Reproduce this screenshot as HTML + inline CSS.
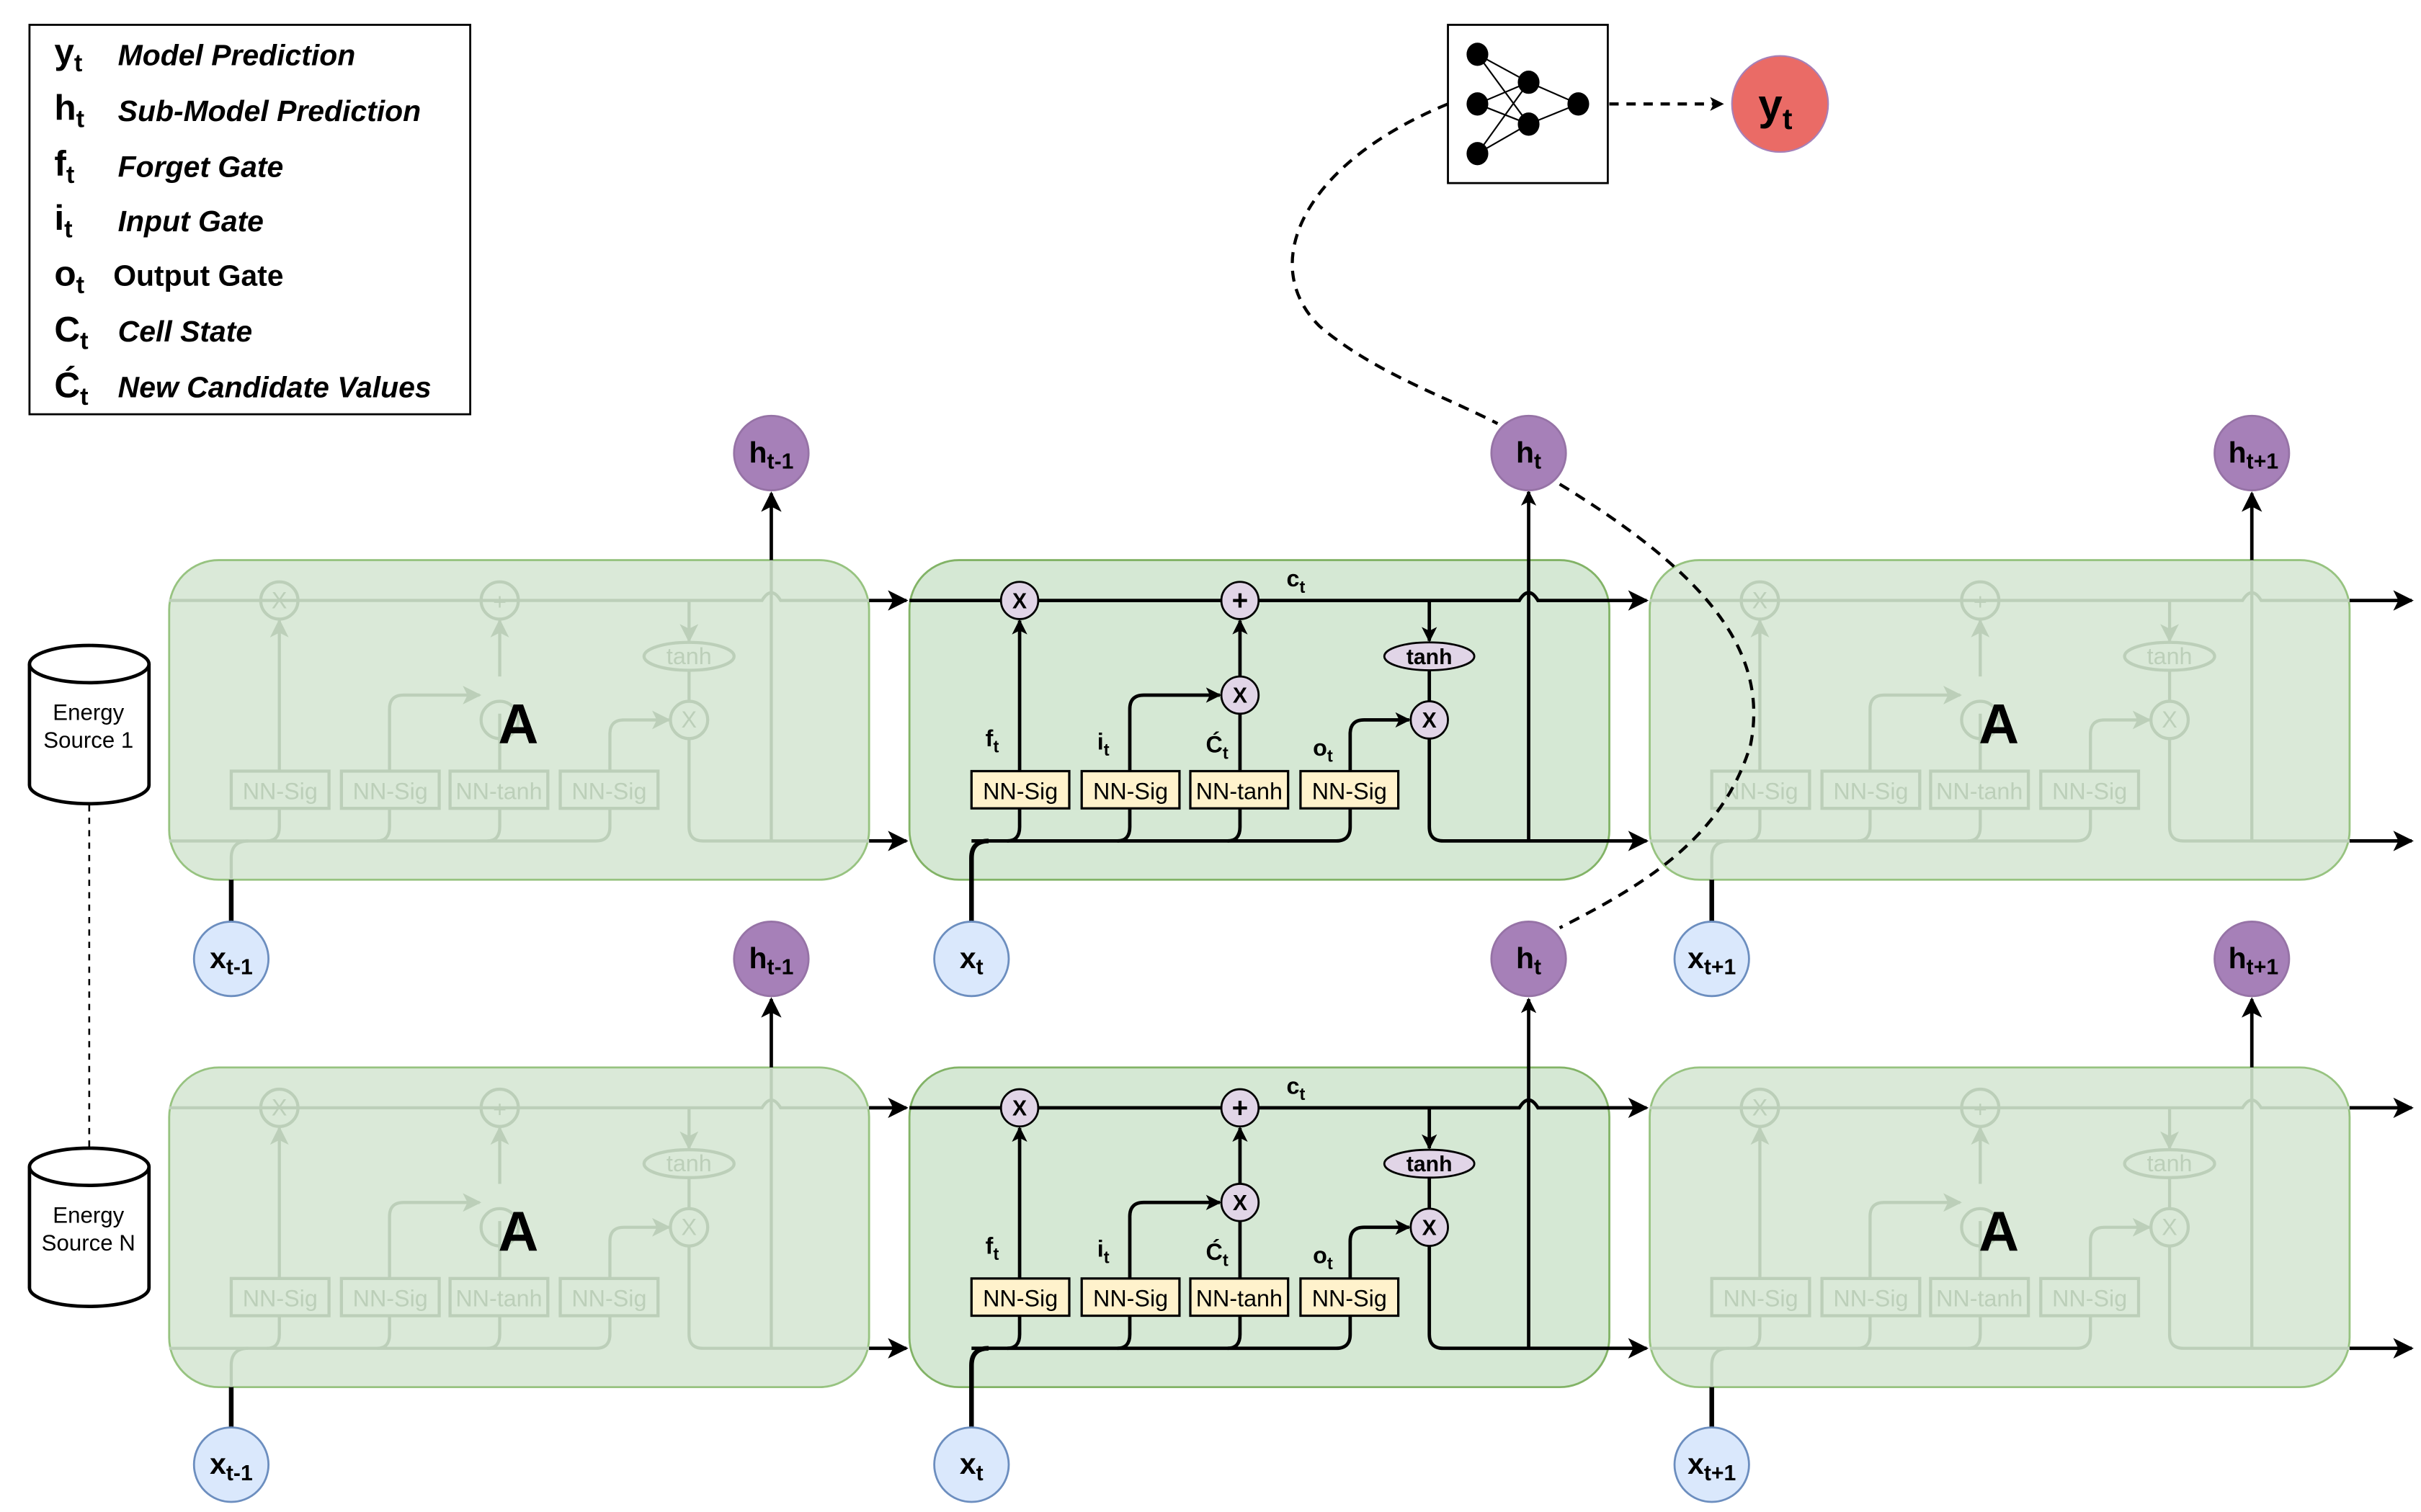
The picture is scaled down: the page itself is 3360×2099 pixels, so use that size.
<!DOCTYPE html>
<html><head><meta charset="utf-8"><style>
html,body{margin:0;padding:0;background:#fff;}
svg{display:block;}
text{font-family:"Liberation Sans",sans-serif;}
</style></head><body>
<svg width="3360" height="2099" viewBox="0 0 1560 974.5" preserveAspectRatio="none" xmlns="http://www.w3.org/2000/svg">
<defs>
<marker id="ar" viewBox="0 0 10 10" refX="9" refY="5" markerWidth="4.5" markerHeight="4.5" markerUnits="strokeWidth" orient="auto"><path d="M0,0 L10,5 L0,10 L2.5,5 z" fill="#000"/></marker>
<marker id="ars" viewBox="0 0 10 10" refX="9" refY="5" markerWidth="6" markerHeight="6" markerUnits="strokeWidth" orient="auto"><path d="M0,0 L10,5 L0,10 L2.5,5 z" fill="#000"/></marker>
<marker id="arf" viewBox="0 0 10 10" refX="9" refY="5" markerWidth="6" markerHeight="6" markerUnits="strokeWidth" orient="auto"><path d="M0,0 L10,5 L0,10 L2.5,5 z" fill="#bccfb9"/></marker>
</defs>

<!-- Legend -->
<rect x="19" y="16" width="284" height="251" fill="#fff" stroke="#000" stroke-width="1.3"/>
<g font-weight="bold" font-size="23">
<text x="35" y="41">y<tspan font-size="16" dy="5">t</tspan></text>
<text x="35" y="77">h<tspan font-size="16" dy="5">t</tspan></text>
<text x="35" y="113">f<tspan font-size="16" dy="5">t</tspan></text>
<text x="35" y="148">i<tspan font-size="16" dy="5">t</tspan></text>
<text x="35" y="184">o<tspan font-size="16" dy="5">t</tspan></text>
<text x="35" y="220">C<tspan font-size="16" dy="5">t</tspan></text>
<text x="35" y="256">Ć<tspan font-size="16" dy="5">t</tspan></text>
</g>
<g font-weight="bold" font-style="italic" font-size="19">
<text x="76" y="42">Model Prediction</text>
<text x="76" y="78">Sub-Model Prediction</text>
<text x="76" y="114">Forget Gate</text>
<text x="76" y="149">Input Gate</text>
<text x="73" y="184" font-style="normal">Output Gate</text>
<text x="76" y="220">Cell State</text>
<text x="76" y="256">New Candidate Values</text>
</g>

<!-- NN box -->
<rect x="933" y="16" width="103" height="102" fill="#fff" stroke="#000" stroke-width="1.3"/>
<g stroke="#000" stroke-width="1">
<line x1="952" y1="35" x2="985" y2="53"/><line x1="952" y1="35" x2="985" y2="80"/>
<line x1="952" y1="67" x2="985" y2="53"/><line x1="952" y1="67" x2="985" y2="80"/>
<line x1="952" y1="99" x2="985" y2="53"/><line x1="952" y1="99" x2="985" y2="80"/>
<line x1="985" y1="53" x2="1017" y2="67"/><line x1="985" y1="80" x2="1017" y2="67"/>
</g>
<g fill="#000"><ellipse cx="952" cy="35" rx="7" ry="7.5"/><ellipse cx="952" cy="67" rx="7" ry="7.5"/><ellipse cx="952" cy="99" rx="7" ry="7.5"/><ellipse cx="985" cy="53" rx="7" ry="7.5"/><ellipse cx="985" cy="80" rx="7" ry="7.5"/><ellipse cx="1017" cy="67" rx="7" ry="7.5"/></g>
<line x1="1037" y1="67" x2="1110" y2="67" stroke="#000" stroke-width="2" stroke-dasharray="6,5" marker-end="url(#ar)"/>
<circle cx="1147" cy="67" r="31" fill="#ea6b66" stroke="#a680b8" stroke-width="1"/>
<text x="1133" y="77" font-size="28" font-weight="bold">y<tspan font-size="19" dy="6">t</tspan></text>

<!-- cylinders -->
<g fill="#fff" stroke="#000" stroke-width="2.2">
<path d="M19,428 V506 A38.5,12 0 0 0 96,506 V428"/><ellipse cx="57.5" cy="428" rx="38.5" ry="12"/>
<path d="M19,752 V830 A38.5,12 0 0 0 96,830 V752"/><ellipse cx="57.5" cy="752" rx="38.5" ry="12"/>
</g>
<g font-size="14.5" text-anchor="middle"><text x="57" y="464">Energy</text><text x="57" y="482">Source 1</text><text x="57" y="788">Energy</text><text x="57" y="806">Source N</text></g>
<line x1="57.5" y1="519" x2="57.5" y2="740" stroke="#000" stroke-width="1.2" stroke-dasharray="4,4"/>

<!-- Cells -->
<g transform="translate(109,361)">
<rect x="0" y="0" width="451" height="206" rx="32" fill="#dae9d8" stroke="#97c380" stroke-width="1.3"/>
<g fill="none" stroke="#bccfb9" stroke-width="2">
<path d="M0,26 H382 q6,-10 12,0 H451"/><path d="M0,181 H275 q9,0 9,-9 V160"/>
<path d="M40,206 V192 q0,-11 11,-11"/><path d="M63,181 q8,0 8,-9 V160"/><path d="M134,181 q8,0 8,-9 V160"/><path d="M205,181 q8,0 8,-9 V160"/>
<path d="M335,115 V172 q0,9 9,9 H451"/><path d="M388,181 V0"/>
<path d="M71,136 V39" marker-end="url(#arf)"/><path d="M142,136 V96 q0,-9 9,-9 H200" marker-end="url(#arf)"/>
<path d="M213,136 V99"/><path d="M213,75 V39" marker-end="url(#arf)"/>
<path d="M284,136 V112 q0,-9 9,-9 H322" marker-end="url(#arf)"/><path d="M335,26 V52" marker-end="url(#arf)"/><path d="M335,71 V91"/>
<circle cx="71" cy="26" r="12"/><circle cx="213" cy="26" r="12"/><circle cx="213" cy="103" r="12"/><circle cx="335" cy="103" r="12"/><ellipse cx="335" cy="62" rx="29" ry="9"/>
<rect x="40" y="136" width="63" height="24"/><rect x="111" y="136" width="63" height="24"/><rect x="181" y="136" width="63" height="24"/><rect x="252" y="136" width="63" height="24"/>
</g>
<g fill="#bccfb9" font-size="15" text-anchor="middle"><text x="71.5" y="154">NN-Sig</text><text x="142.5" y="154">NN-Sig</text><text x="212.5" y="154">NN-tanh</text><text x="283.5" y="154">NN-Sig</text><text x="71" y="31">X</text><text x="213" y="32">+</text><text x="335" y="67">tanh</text><text x="335" y="108">X</text></g>
<text x="225" y="118" font-size="36" font-weight="bold" text-anchor="middle">A</text>
</g>

<g transform="translate(1063,361)">
<rect x="0" y="0" width="451" height="206" rx="32" fill="#dae9d8" stroke="#97c380" stroke-width="1.3"/>
<g fill="none" stroke="#bccfb9" stroke-width="2">
<path d="M0,26 H382 q6,-10 12,0 H451"/><path d="M0,181 H275 q9,0 9,-9 V160"/>
<path d="M40,206 V192 q0,-11 11,-11"/><path d="M63,181 q8,0 8,-9 V160"/><path d="M134,181 q8,0 8,-9 V160"/><path d="M205,181 q8,0 8,-9 V160"/>
<path d="M335,115 V172 q0,9 9,9 H451"/><path d="M388,181 V0"/>
<path d="M71,136 V39" marker-end="url(#arf)"/><path d="M142,136 V96 q0,-9 9,-9 H200" marker-end="url(#arf)"/>
<path d="M213,136 V99"/><path d="M213,75 V39" marker-end="url(#arf)"/>
<path d="M284,136 V112 q0,-9 9,-9 H322" marker-end="url(#arf)"/><path d="M335,26 V52" marker-end="url(#arf)"/><path d="M335,71 V91"/>
<circle cx="71" cy="26" r="12"/><circle cx="213" cy="26" r="12"/><circle cx="213" cy="103" r="12"/><circle cx="335" cy="103" r="12"/><ellipse cx="335" cy="62" rx="29" ry="9"/>
<rect x="40" y="136" width="63" height="24"/><rect x="111" y="136" width="63" height="24"/><rect x="181" y="136" width="63" height="24"/><rect x="252" y="136" width="63" height="24"/>
</g>
<g fill="#bccfb9" font-size="15" text-anchor="middle"><text x="71.5" y="154">NN-Sig</text><text x="142.5" y="154">NN-Sig</text><text x="212.5" y="154">NN-tanh</text><text x="283.5" y="154">NN-Sig</text><text x="71" y="31">X</text><text x="213" y="32">+</text><text x="335" y="67">tanh</text><text x="335" y="108">X</text></g>
<text x="225" y="118" font-size="36" font-weight="bold" text-anchor="middle">A</text>
</g>

<g transform="translate(109,688)">
<rect x="0" y="0" width="451" height="206" rx="32" fill="#dae9d8" stroke="#97c380" stroke-width="1.3"/>
<g fill="none" stroke="#bccfb9" stroke-width="2">
<path d="M0,26 H382 q6,-10 12,0 H451"/><path d="M0,181 H275 q9,0 9,-9 V160"/>
<path d="M40,206 V192 q0,-11 11,-11"/><path d="M63,181 q8,0 8,-9 V160"/><path d="M134,181 q8,0 8,-9 V160"/><path d="M205,181 q8,0 8,-9 V160"/>
<path d="M335,115 V172 q0,9 9,9 H451"/><path d="M388,181 V0"/>
<path d="M71,136 V39" marker-end="url(#arf)"/><path d="M142,136 V96 q0,-9 9,-9 H200" marker-end="url(#arf)"/>
<path d="M213,136 V99"/><path d="M213,75 V39" marker-end="url(#arf)"/>
<path d="M284,136 V112 q0,-9 9,-9 H322" marker-end="url(#arf)"/><path d="M335,26 V52" marker-end="url(#arf)"/><path d="M335,71 V91"/>
<circle cx="71" cy="26" r="12"/><circle cx="213" cy="26" r="12"/><circle cx="213" cy="103" r="12"/><circle cx="335" cy="103" r="12"/><ellipse cx="335" cy="62" rx="29" ry="9"/>
<rect x="40" y="136" width="63" height="24"/><rect x="111" y="136" width="63" height="24"/><rect x="181" y="136" width="63" height="24"/><rect x="252" y="136" width="63" height="24"/>
</g>
<g fill="#bccfb9" font-size="15" text-anchor="middle"><text x="71.5" y="154">NN-Sig</text><text x="142.5" y="154">NN-Sig</text><text x="212.5" y="154">NN-tanh</text><text x="283.5" y="154">NN-Sig</text><text x="71" y="31">X</text><text x="213" y="32">+</text><text x="335" y="67">tanh</text><text x="335" y="108">X</text></g>
<text x="225" y="118" font-size="36" font-weight="bold" text-anchor="middle">A</text>
</g>

<g transform="translate(1063,688)">
<rect x="0" y="0" width="451" height="206" rx="32" fill="#dae9d8" stroke="#97c380" stroke-width="1.3"/>
<g fill="none" stroke="#bccfb9" stroke-width="2">
<path d="M0,26 H382 q6,-10 12,0 H451"/><path d="M0,181 H275 q9,0 9,-9 V160"/>
<path d="M40,206 V192 q0,-11 11,-11"/><path d="M63,181 q8,0 8,-9 V160"/><path d="M134,181 q8,0 8,-9 V160"/><path d="M205,181 q8,0 8,-9 V160"/>
<path d="M335,115 V172 q0,9 9,9 H451"/><path d="M388,181 V0"/>
<path d="M71,136 V39" marker-end="url(#arf)"/><path d="M142,136 V96 q0,-9 9,-9 H200" marker-end="url(#arf)"/>
<path d="M213,136 V99"/><path d="M213,75 V39" marker-end="url(#arf)"/>
<path d="M284,136 V112 q0,-9 9,-9 H322" marker-end="url(#arf)"/><path d="M335,26 V52" marker-end="url(#arf)"/><path d="M335,71 V91"/>
<circle cx="71" cy="26" r="12"/><circle cx="213" cy="26" r="12"/><circle cx="213" cy="103" r="12"/><circle cx="335" cy="103" r="12"/><ellipse cx="335" cy="62" rx="29" ry="9"/>
<rect x="40" y="136" width="63" height="24"/><rect x="111" y="136" width="63" height="24"/><rect x="181" y="136" width="63" height="24"/><rect x="252" y="136" width="63" height="24"/>
</g>
<g fill="#bccfb9" font-size="15" text-anchor="middle"><text x="71.5" y="154">NN-Sig</text><text x="142.5" y="154">NN-Sig</text><text x="212.5" y="154">NN-tanh</text><text x="283.5" y="154">NN-Sig</text><text x="71" y="31">X</text><text x="213" y="32">+</text><text x="335" y="67">tanh</text><text x="335" y="108">X</text></g>
<text x="225" y="118" font-size="36" font-weight="bold" text-anchor="middle">A</text>
</g>

<!-- active cells -->
<g transform="translate(586,361)">
<rect x="0" y="0" width="451" height="206" rx="32" fill="#d5e8d4" stroke="#82b366" stroke-width="1.3"/>
<g fill="none" stroke="#000" stroke-width="2.2">
<path d="M0,26 H393 q6,-10 12,0 H451"/><path d="M40,181 H275 q9,0 9,-9 V160"/>
<path d="M40,233 V192 q0,-11 11,-11" stroke-width="3"/><path d="M63,181 q8,0 8,-9 V160"/><path d="M134,181 q8,0 8,-9 V160"/><path d="M205,181 q8,0 8,-9 V160"/>
<path d="M335,115 V172 q0,9 9,9 H451"/><path d="M399,181 V-44" marker-end="url(#ar)"/>
<path d="M71,136 V39" marker-end="url(#ar)"/><path d="M142,136 V96 q0,-9 9,-9 H200" marker-end="url(#ar)"/>
<path d="M213,136 V99"/><path d="M213,75 V39" marker-end="url(#ar)"/>
<path d="M284,136 V112 q0,-9 9,-9 H322" marker-end="url(#ar)"/><path d="M335,26 V52" marker-end="url(#ar)"/><path d="M335,71 V91"/>
</g>
<g fill="#e1d5e7" stroke="#000" stroke-width="1.3">
<circle cx="71" cy="26" r="12"/><circle cx="213" cy="26" r="12"/><circle cx="213" cy="87" r="12"/><circle cx="335" cy="103" r="12"/><ellipse cx="335" cy="62" rx="29" ry="9"/>
</g>
<g fill="#fff2cc" stroke="#000" stroke-width="1.5"><rect x="40" y="136" width="63" height="24"/><rect x="111" y="136" width="63" height="24"/><rect x="181" y="136" width="63" height="24"/><rect x="252" y="136" width="63" height="24"/></g>
<g font-size="15" text-anchor="middle"><text x="71.5" y="154">NN-Sig</text><text x="142.5" y="154">NN-Sig</text><text x="212.5" y="154">NN-tanh</text><text x="283.5" y="154">NN-Sig</text></g>
<g font-size="14" font-weight="bold" text-anchor="middle"><text x="71" y="31">X</text><text x="213" y="32" font-size="18">+</text><text x="213" y="92">X</text><text x="335" y="67">tanh</text><text x="335" y="108">X</text></g>
<g font-size="15" font-weight="bold"><text x="49" y="120">f<tspan font-size="11" dy="4">t</tspan></text><text x="121" y="122">i<tspan font-size="11" dy="4">t</tspan></text><text x="191" y="124">Ć<tspan font-size="11" dy="4">t</tspan></text><text x="260" y="126">o<tspan font-size="11" dy="4">t</tspan></text><text x="243" y="17">c<tspan font-size="11" dy="4">t</tspan></text></g>
</g>

<g transform="translate(586,688)">
<rect x="0" y="0" width="451" height="206" rx="32" fill="#d5e8d4" stroke="#82b366" stroke-width="1.3"/>
<g fill="none" stroke="#000" stroke-width="2.2">
<path d="M0,26 H393 q6,-10 12,0 H451"/><path d="M40,181 H275 q9,0 9,-9 V160"/>
<path d="M40,233 V192 q0,-11 11,-11" stroke-width="3"/><path d="M63,181 q8,0 8,-9 V160"/><path d="M134,181 q8,0 8,-9 V160"/><path d="M205,181 q8,0 8,-9 V160"/>
<path d="M335,115 V172 q0,9 9,9 H451"/><path d="M399,181 V-44" marker-end="url(#ar)"/>
<path d="M71,136 V39" marker-end="url(#ar)"/><path d="M142,136 V96 q0,-9 9,-9 H200" marker-end="url(#ar)"/>
<path d="M213,136 V99"/><path d="M213,75 V39" marker-end="url(#ar)"/>
<path d="M284,136 V112 q0,-9 9,-9 H322" marker-end="url(#ar)"/><path d="M335,26 V52" marker-end="url(#ar)"/><path d="M335,71 V91"/>
</g>
<g fill="#e1d5e7" stroke="#000" stroke-width="1.3">
<circle cx="71" cy="26" r="12"/><circle cx="213" cy="26" r="12"/><circle cx="213" cy="87" r="12"/><circle cx="335" cy="103" r="12"/><ellipse cx="335" cy="62" rx="29" ry="9"/>
</g>
<g fill="#fff2cc" stroke="#000" stroke-width="1.5"><rect x="40" y="136" width="63" height="24"/><rect x="111" y="136" width="63" height="24"/><rect x="181" y="136" width="63" height="24"/><rect x="252" y="136" width="63" height="24"/></g>
<g font-size="15" text-anchor="middle"><text x="71.5" y="154">NN-Sig</text><text x="142.5" y="154">NN-Sig</text><text x="212.5" y="154">NN-tanh</text><text x="283.5" y="154">NN-Sig</text></g>
<g font-size="14" font-weight="bold" text-anchor="middle"><text x="71" y="31">X</text><text x="213" y="32" font-size="18">+</text><text x="213" y="92">X</text><text x="335" y="67">tanh</text><text x="335" y="108">X</text></g>
<g font-size="15" font-weight="bold"><text x="49" y="120">f<tspan font-size="11" dy="4">t</tspan></text><text x="121" y="122">i<tspan font-size="11" dy="4">t</tspan></text><text x="191" y="124">Ć<tspan font-size="11" dy="4">t</tspan></text><text x="260" y="126">o<tspan font-size="11" dy="4">t</tspan></text><text x="243" y="17">c<tspan font-size="11" dy="4">t</tspan></text></g>
</g>

<!-- connectors between cells -->
<g stroke="#000" stroke-width="2.2" fill="none">
<path d="M560,387 H584" marker-end="url(#ars)"/><path d="M560,542 H584" marker-end="url(#ars)"/>
<path d="M1037,387 H1061" marker-end="url(#ars)"/><path d="M1037,542 H1061" marker-end="url(#ars)"/>
<path d="M1514,387 H1554" marker-end="url(#ars)"/><path d="M1514,542 H1554" marker-end="url(#ars)"/>
<path d="M560,714 H584" marker-end="url(#ars)"/><path d="M560,869 H584" marker-end="url(#ars)"/>
<path d="M1037,714 H1061" marker-end="url(#ars)"/><path d="M1037,869 H1061" marker-end="url(#ars)"/>
<path d="M1514,714 H1554" marker-end="url(#ars)"/><path d="M1514,869 H1554" marker-end="url(#ars)"/>
<path d="M497,361 V318" marker-end="url(#ars)"/><path d="M1451,361 V318" marker-end="url(#ars)"/>
<path d="M497,688 V644" marker-end="url(#ars)"/><path d="M1451,688 V644" marker-end="url(#ars)"/>
<path d="M149,594 V567" stroke-width="3"/><path d="M1103,594 V567" stroke-width="3"/>
<path d="M149,920 V894" stroke-width="3"/><path d="M1103,920 V894" stroke-width="3"/>
</g>

<!-- dashed curves (on top of cells) -->
<path d="M933,67 C840,105 810,170 850,210 C885,240 930,255 965,273" fill="none" stroke="#000" stroke-width="2" stroke-dasharray="7,5"/>
<path d="M1005,312 C1100,370 1140,420 1128,480 C1110,540 1060,570 1005,598" fill="none" stroke="#000" stroke-width="2" stroke-dasharray="7,5"/>

<!-- circles -->
<g fill="#a680b8" stroke="#9673a6" stroke-width="1.3">
<circle cx="497" cy="292" r="24"/><circle cx="985" cy="292" r="24"/><circle cx="1451" cy="292" r="24"/>
<circle cx="497" cy="618" r="24"/><circle cx="985" cy="618" r="24"/><circle cx="1451" cy="618" r="24"/>
</g>
<g fill="#dae8fc" stroke="#6c8ebf" stroke-width="1.3">
<circle cx="149" cy="618" r="24"/><circle cx="626" cy="618" r="24"/><circle cx="1103" cy="618" r="24"/>
<circle cx="149" cy="944" r="24"/><circle cx="626" cy="944" r="24"/><circle cx="1103" cy="944" r="24"/>
</g>
<g font-size="19" font-weight="bold" text-anchor="middle">
<text x="497" y="298">h<tspan font-size="14" dy="4">t-1</tspan></text>
<text x="985" y="298">h<tspan font-size="14" dy="4">t</tspan></text>
<text x="1452" y="298">h<tspan font-size="14" dy="4">t+1</tspan></text>
<text x="497" y="624">h<tspan font-size="14" dy="4">t-1</tspan></text>
<text x="985" y="624">h<tspan font-size="14" dy="4">t</tspan></text>
<text x="1452" y="624">h<tspan font-size="14" dy="4">t+1</tspan></text>
<text x="149" y="624">x<tspan font-size="14" dy="4">t-1</tspan></text>
<text x="626" y="624">x<tspan font-size="14" dy="4">t</tspan></text>
<text x="1103" y="624">x<tspan font-size="14" dy="4">t+1</tspan></text>
<text x="149" y="950">x<tspan font-size="14" dy="4">t-1</tspan></text>
<text x="626" y="950">x<tspan font-size="14" dy="4">t</tspan></text>
<text x="1103" y="950">x<tspan font-size="14" dy="4">t+1</tspan></text>
</g>
</svg>
</body></html>
